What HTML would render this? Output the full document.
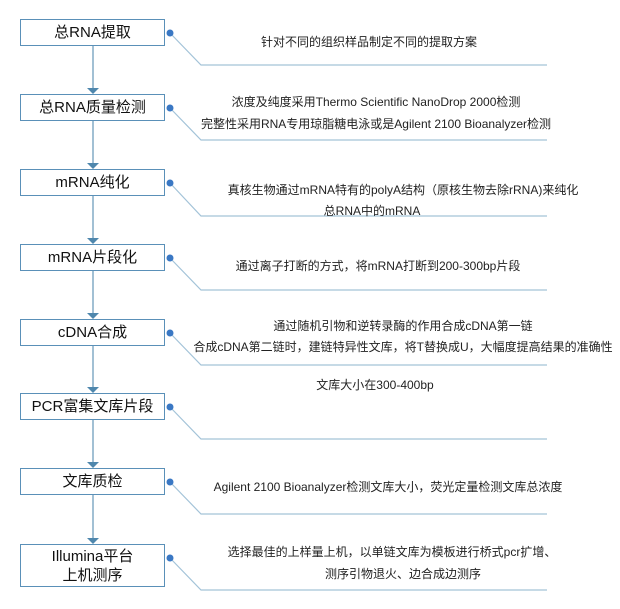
<!DOCTYPE html>
<html><head><meta charset="utf-8"><style>
body{margin:0;background:#fff;width:620px;height:609px;position:relative;overflow:hidden;font-family:"Liberation Sans","Noto Sans CJK SC",sans-serif;}
.b{position:absolute;left:20px;width:143px;height:25px;border:1.5px solid #5a90b8;display:flex;align-items:center;justify-content:center;font-size:15px;color:#111;text-align:center;line-height:19px;background:#fff}
.t{position:absolute;width:440px;text-align:center;font-size:12px;color:#222;white-space:nowrap;line-height:14px}
</style></head><body>
<svg width="620" height="609" style="position:absolute;left:0;top:0">
<g stroke="#6f9dbd" stroke-width="1.3">
<line x1="93" y1="46" x2="93" y2="88"/><line x1="93" y1="121" x2="93" y2="163"/>
<line x1="93" y1="196" x2="93" y2="238"/><line x1="93" y1="271" x2="93" y2="313"/>
<line x1="93" y1="346" x2="93" y2="387"/><line x1="93" y1="420" x2="93" y2="462"/>
<line x1="93" y1="495" x2="93" y2="538"/>
</g>
<g fill="#4f87ad">
<polygon points="87,88 99,88 93,94"/><polygon points="87,163 99,163 93,169"/>
<polygon points="87,238 99,238 93,244"/><polygon points="87,313 99,313 93,319"/>
<polygon points="87,387 99,387 93,393"/><polygon points="87,462 99,462 93,468"/>
<polygon points="87,538 99,538 93,544"/>
</g>
<g stroke="#a3c3d8" stroke-width="1.2" fill="none">
<polyline points="170,33 201,65 547,65"/><polyline points="170,108 201,140 547,140"/>
<polyline points="170,183 201,216 547,216"/><polyline points="170,258 201,290 547,290"/>
<polyline points="170,333 201,365 547,365"/><polyline points="170,407 201,439 547,439"/>
<polyline points="170,482 201,514 547,514"/><polyline points="170,558 201,590 547,590"/>
</g>
<g fill="#3a78c4">
<circle cx="170" cy="33" r="3.5"/><circle cx="170" cy="108" r="3.5"/><circle cx="170" cy="183" r="3.5"/>
<circle cx="170" cy="258" r="3.5"/><circle cx="170" cy="333" r="3.5"/><circle cx="170" cy="407" r="3.5"/>
<circle cx="170" cy="482" r="3.5"/><circle cx="170" cy="558" r="3.5"/>
</g>
</svg>
<div class="b" style="top:19px">总RNA提取</div>
<div class="b" style="top:94px">总RNA质量检测</div>
<div class="b" style="top:169px">mRNA纯化</div>
<div class="b" style="top:244px">mRNA片段化</div>
<div class="b" style="top:319px">cDNA合成</div>
<div class="b" style="top:393px">PCR富集文库片段</div>
<div class="b" style="top:468px">文库质检</div>
<div class="b" style="top:544px;height:41px">Illumina平台<br>上机测序</div>

<div class="t" style="left:149px;top:35px">针对不同的组织样品制定不同的提取方案</div>
<div class="t" style="left:156px;top:95px">浓度及纯度采用Thermo Scientific NanoDrop 2000检测</div>
<div class="t" style="left:156px;top:117px">完整性采用RNA专用琼脂糖电泳或是Agilent 2100 Bioanalyzer检测</div>
<div class="t" style="left:183px;top:183px">真核生物通过mRNA特有的polyA结构（原核生物去除rRNA)来纯化</div>
<div class="t" style="left:152px;top:204px">总RNA中的mRNA</div>
<div class="t" style="left:158px;top:259px">通过离子打断的方式，将mRNA打断到200-300bp片段</div>
<div class="t" style="left:183px;top:319px">通过随机引物和逆转录酶的作用合成cDNA第一链</div>
<div class="t" style="left:183px;top:340px">合成cDNA第二链时，建链特异性文库，将T替换成U，大幅度提高结果的准确性</div>
<div class="t" style="left:155px;top:378px">文库大小在300-400bp</div>
<div class="t" style="left:168px;top:480px">Agilent 2100 Bioanalyzer检测文库大小，荧光定量检测文库总浓度</div>
<div class="t" style="left:172px;top:545px">选择最佳的上样量上机，以单链文库为模板进行桥式pcr扩增、</div>
<div class="t" style="left:183px;top:567px">测序引物退火、边合成边测序</div>
</body></html>
